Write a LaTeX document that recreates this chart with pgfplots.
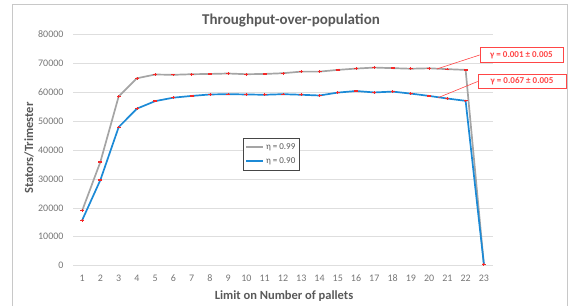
\documentclass[border=0pt]{standalone}
\usepackage{fontspec}
\setmainfont{Carlito}
\usepackage{pgfplots}
\usepackage{pgfplotstable}
\pgfplotsset{compat=1.18}
\definecolor{grayline}{RGB}{165,165,165}
\definecolor{blueline}{RGB}{28,138,214}
\definecolor{txtgray}{RGB}{118,118,118}
\definecolor{titlegray}{RGB}{89,89,89}
\definecolor{gridgray}{RGB}{222,222,222}
\definecolor{annred}{RGB}{255,70,70}
\definecolor{errred}{RGB}{245,40,40}
\definecolor{legframe}{RGB}{70,70,70}

\pgfplotstableread{
x  y
1  19000
2  35900
3  58500
4  64800
5  66100
6  66000
7  66200
8  66300
9  66450
10 66200
11 66300
12 66550
13 67100
14 67100
15 67700
16 68150
17 68500
18 68300
19 68100
20 68250
21 67950
22 67700
23 500
}\gray

\pgfplotstableread{
x  y
1  15700
2  29650
3  47900
4  54300
5  56900
6  58100
7  58700
8  59200
9  59300
10 59200
11 59100
12 59300
13 59100
14 58850
15 59850
16 60400
17 59900
18 60200
19 59500
20 58700
21 57800
22 57000
23 500
}\blue

\begin{document}
\begin{tikzpicture}[x=1pt,y=1pt]
\useasboundingbox (0,0) rectangle (572,-306);
\draw[gridgray!90!black, line width=0.6pt] (12.3,-306) -- (12.3,-4) -- (567,-4) -- (567,-306);
\node[font=\fontsize{15}{17}\selectfont\bfseries, text=titlegray] at (291,-20) {Throughput-over-population};
\node[font=\fontsize{12.5}{14}\selectfont\bfseries, text=titlegray] at (284,-296) {Limit on Number of pallets};
\node[font=\fontsize{12.5}{14}\selectfont\bfseries, text=titlegray, rotate=90] at (29,-148) {Stators/Trimester};
\begin{axis}[
  at={(73pt,-265.7pt)}, anchor=south west,
  scale only axis, width=420pt, height=231.4pt,
  xmin=0.5, xmax=23.5, ymin=0, ymax=80000,
  xtick={1,...,23}, ytick={0,10000,...,80000},
  scaled y ticks=false,
  /pgf/number format/1000 sep={},
  /pgf/number format/assume math mode=true,
  axis line style={draw=none},
  major tick length=0pt,
  ymajorgrids, grid style={gridgray, line width=0.7pt},
  ticklabel style={font=\fontsize{10}{12}\selectfont, text=txtgray},
  yticklabel style={xshift=-6pt},
  xticklabel style={anchor=base, yshift=-16pt},
  clip=false,
  legend style={at={(axis description cs:0.405,0.552)}, anchor=north west,
    draw=none, fill=white, name=leg,
    font=\fontsize{9}{11}\selectfont, text=titlegray,
    inner xsep=2pt, inner ysep=3pt, row sep=3pt},
  legend cell align=left,
  legend image code/.code={\draw[#1] (0pt,0pt) -- (17pt,0pt);},
]
\addplot[grayline, line width=1.7pt, mark=none] table[x=x,y=y] {\gray};
\addlegendentry{η = 0.99}
\addplot[blueline, line width=1.7pt, mark=none] table[x=x,y=y] {\blue};
\addlegendentry{η = 0.90}
\addplot[only marks, mark=-, mark size=2pt, mark options={draw=errred, line width=1.3pt}, forget plot,
  error bars/.cd, y dir=both, y fixed=450, error mark=none,
  error bar style={draw=errred, line width=0.8pt}]
  table[x=x,y=y] {\gray};
\addplot[only marks, mark=-, mark size=2pt, mark options={draw=errred, line width=1.3pt}, forget plot,
  error bars/.cd, y dir=both, y fixed=450, error mark=none,
  error bar style={draw=errred, line width=0.8pt}]
  table[x=x,y=y] {\blue};

\node[draw=annred, line width=0.8pt, text=annred, fill=white, font=\fontsize{9}{11}\selectfont\bfseries,
  inner xsep=6pt, inner ysep=3.5pt, minimum width=83pt] (a1) at (axis cs:25.06,72840) {γ = 0.001 ± 0.005};
\node[draw=annred, line width=0.8pt, text=annred, fill=white, font=\fontsize{9}{11}\selectfont\bfseries,
  inner xsep=6pt, inner ysep=3.5pt, minimum width=88pt] (a2) at (axis cs:25.09,63680) {γ = 0.067 ± 0.005};
\draw[annred, line width=0.6pt] (a1.west) -- (axis cs:20.42,68000);
\draw[annred, line width=0.6pt] (a2.west) -- (axis cs:20.49,58080);
\end{axis}
\draw[legframe, line width=0.8pt] (leg.south west) rectangle (leg.north east);
\end{tikzpicture}
\end{document}
